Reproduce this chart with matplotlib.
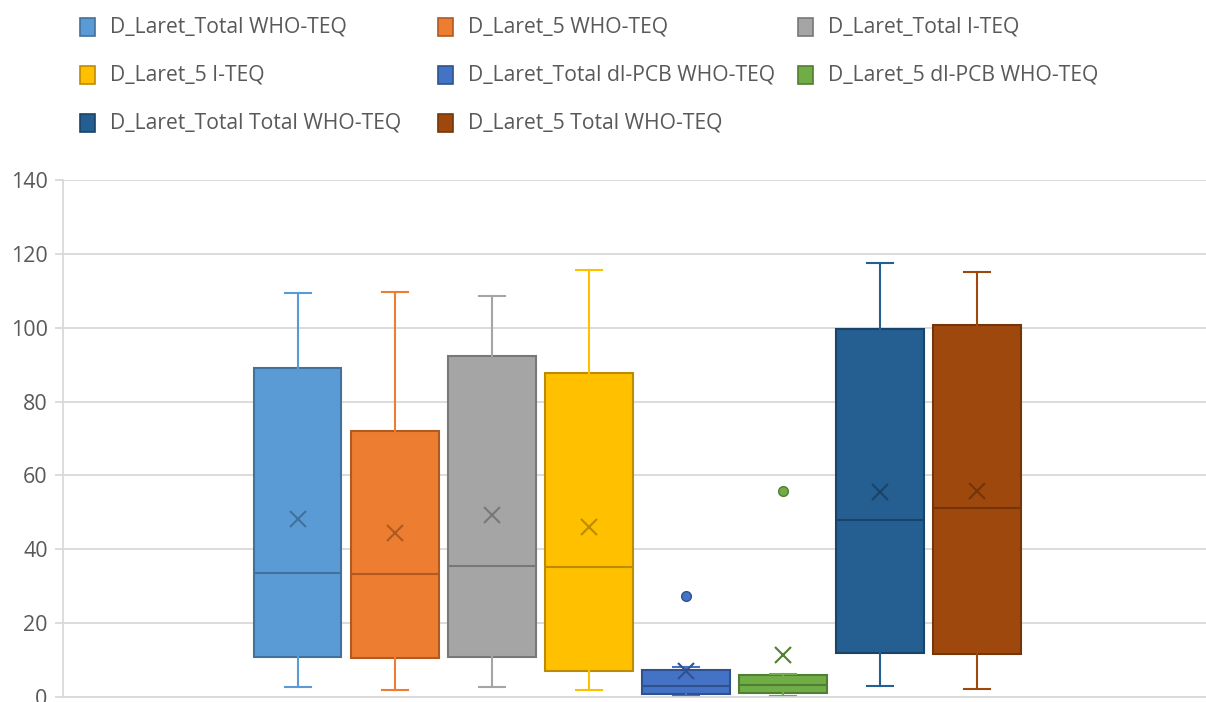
import matplotlib
matplotlib.use("Agg")
import matplotlib.pyplot as plt
from matplotlib.patches import Rectangle

plt.rcParams['font.family'] = ['Open Sans', 'DejaVu Sans']

# series
labels = ['D_Laret_Total WHO-TEQ', 'D_Laret_5 WHO-TEQ', 'D_Laret_Total I-TEQ',
          'D_Laret_5 I-TEQ', 'D_Laret_Total dl-PCB WHO-TEQ', 'D_Laret_5 dl-PCB WHO-TEQ',
          'D_Laret_Total Total WHO-TEQ', 'D_Laret_5 Total WHO-TEQ']
whislo = [2.7, 1.9, 2.7, 1.9, 0.3, 0.3, 3.0, 2.2]
q1 = [10.8, 10.6, 10.8, 7.0, 0.8, 1.1, 11.9, 11.6]
med = [33.6, 33.3, 35.5, 35.2, 3.0, 3.2, 47.9, 51.1]
q3 = [89.0, 72.0, 92.3, 87.7, 7.3, 5.9, 99.6, 100.7]
whishi = [109.3, 109.6, 108.5, 115.6, 8.1, 6.2, 117.5, 115.0]
means = [48.2, 44.4, 49.3, 46.0, 7.0, 11.4, 55.5, 55.7]
fliers = [[], [], [], [], [27.3], [55.7], [], []]

fills = ['#5B9BD5', '#ED7D31', '#A5A5A5', '#FFC000', '#4472C4', '#70AD47', '#255E91', '#9E480E']
edges = ['#41719C', '#AE5A21', '#787878', '#BC8C00', '#2F528F', '#507E32', '#1A4368', '#743509']

fig = plt.figure(figsize=(12.06, 7.02), dpi=100)
ax = fig.add_axes([63 / 1206, 5 / 702, 1 - 63 / 1206, (697 - 180) / 702])

for i in range(len(labels)):
    st = dict(whislo=whislo[i], q1=q1[i], med=med[i], q3=q3[i], whishi=whishi[i],
              mean=means[i], fliers=fliers[i], label=labels[i])
    ax.bxp([st], positions=[i + 1], widths=0.9, capwidths=0.27, showmeans=True,
           patch_artist=True, manage_ticks=False,
           boxprops=dict(facecolor=fills[i], edgecolor=edges[i], linewidth=1.5),
           medianprops=dict(color=edges[i], linewidth=1.5),
           whiskerprops=dict(color=fills[i], linewidth=1.5),
           capprops=dict(color=fills[i], linewidth=1.5),
           meanprops=dict(marker='x', markeredgecolor=edges[i], markersize=12,
                          markeredgewidth=1.5),
           flierprops=dict(marker='o', markerfacecolor=fills[i], markeredgecolor=edges[i],
                           markersize=7))

ax.set_xlim(-1.42, 10.36)
ax.set_ylim(0, 140)
ax.set_yticks(range(0, 141, 20))
ax.set_xticks([])
ax.grid(axis='y', color='#D9D9D9', linewidth=1.3)
ax.set_axisbelow(True)
for s in ['top', 'right']:
    ax.spines[s].set_visible(False)
ax.spines['left'].set_color('#D9D9D9')
ax.spines['bottom'].set_color('#D9D9D9')
ax.spines['left'].set_linewidth(1.3)
ax.spines['bottom'].set_linewidth(1.3)
ax.tick_params(axis='y', colors='#D9D9D9', labelcolor='#595959', labelsize=15.5,
               length=6, width=1.3, pad=5)

# legend in Excel's row-major layout
col_x = [80, 438, 798]
row_y = [27, 75, 123]
for i, lab in enumerate(labels):
    r, c = divmod(i, 3)
    x0 = col_x[c] / 1206
    yc = 1 - row_y[r] / 702
    fig.patches.append(Rectangle((x0, yc - 9 / 702), 15 / 1206, 18 / 702,
                                 transform=fig.transFigure, facecolor=fills[i],
                                 edgecolor=edges[i], linewidth=1.2))
    fig.text(x0 + 30 / 1206, yc, lab, fontsize=15.2, color='#595959', va='center', ha='left')

fig.savefig('out.png', dpi=100)
